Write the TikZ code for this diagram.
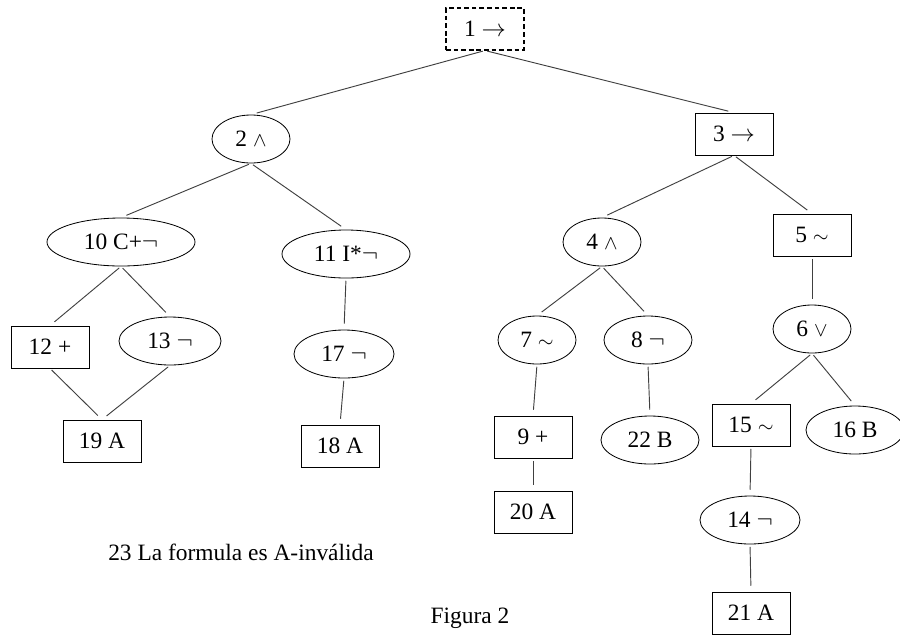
\documentclass[tikz,border=0pt]{standalone}
\usepackage{fontspec}
\setmainfont{Liberation Serif}
\usepackage{tikz}
\usetikzlibrary{shapes.geometric}
\definecolor{edgegrey}{HTML}{404040}
\newcommand{\smallop}[1]{{\fontsize{16}{18}\selectfont$#1$}}

\begin{document}
\begin{tikzpicture}[x=0.03cm,y=-0.03cm,
  every node/.style={font=\fontsize{20}{24}\selectfont},
  sqbox/.style={draw,rectangle,minimum width=2.34cm,minimum height=1.26cm,inner sep=2pt,line width=0.7pt},
  oval/.style={draw,ellipse,minimum width=2.34cm,minimum height=1.44cm,inner sep=1pt,line width=0.7pt},
  edge/.style={draw=edgegrey,line width=0.8pt,shorten <=2pt,shorten >=5pt}
]
\useasboundingbox (0,0) rectangle (900,634);
% level 1
\node[sqbox,dash pattern=on 4pt off 2.5pt,line width=0.9pt] (n1) at (485,29) {1 $\rightarrow$};
% level 2
\node[oval] (n2) at (251,139) {2 \smallop{\wedge}};
\node[sqbox] (n3) at (734,134) {3 $\rightarrow$};
% level 3
\node[oval,minimum width=4.44cm] (n10) at (121,242) {10 C+$\neg$};
\node[oval,minimum width=3.84cm] (n11) at (346,254) {11 I*$\neg$};
\node[oval] (n4) at (602,242) {4 \smallop{\wedge}};
\node[sqbox] (n5) at (812,235) {5 \smallop{\sim}};
% level 4
\node[sqbox] (n12) at (50,347) {12 +};
\node[oval,minimum width=3.06cm] (n13) at (170,341) {13 $\neg$};
\node[oval,minimum width=3cm] (n17) at (344,354) {17 $\neg$};
\node[oval] (n7) at (537,340) {7 \smallop{\sim}};
\node[oval,minimum width=2.64cm] (n8) at (648,340) {8 $\neg$};
\node[oval] (n6) at (812,329) {6 \smallop{\vee}};
% level 5
\node[sqbox] (n19) at (102,441) {19 A};
\node[sqbox] (n18) at (340,446) {18 A};
\node[sqbox] (n9) at (533,437) {9 +};
\node[oval,minimum width=2.94cm] (n22) at (650,440) {22 B};
\node[sqbox] (n15) at (751,425) {15 \smallop{\sim}};
\node[oval,minimum width=2.94cm] (n16) at (855,430) {16 B};
% level 6
\node[sqbox] (n20) at (533,512) {20 A};
\node[oval,minimum width=3cm] (n14) at (750,520) {14 $\neg$};
\node[sqbox] (n21) at (751,613) {21 A};
% texts
\node (verdict) at (241,552) {23 La formula es A-inválida};
\node (caption) at (470,618) {Figura 2};

\foreach \a/\b in {n1/n2,n1/n3,n2/n10,n2/n11,n3/n4,n3/n5,n10/n12,n10/n13,n11/n17,
  n4/n7,n4/n8,n5/n6,n12/n19,n13/n19,n17/n18,n7/n9,n8/n22,n6/n15,n6/n16,n9/n20,n15/n14,n14/n21}
  \draw[edge] (\a.south) -- (\b.north);
\end{tikzpicture}
\end{document}
